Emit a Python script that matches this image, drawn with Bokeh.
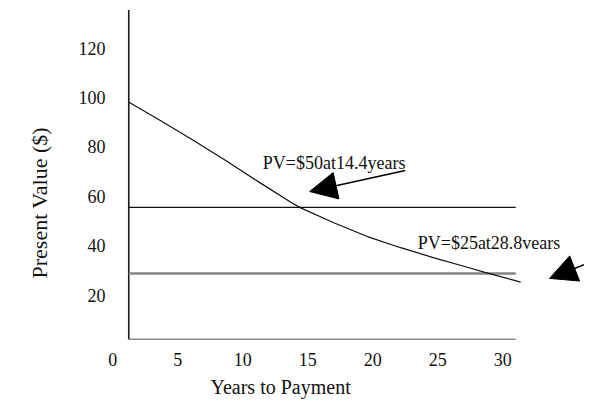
from bokeh.plotting import figure
from bokeh.models import Range1d, FixedTicker, Label, Arrow, NormalHead, Title
from bokeh.embed import file_html
from bokeh.resources import INLINE

# ---- data ----
curve_years = [1.25, 3.56, 6.13, 8.69, 11.25, 13.82, 14.46, 17.0, 19.59,
               22.15, 24.72, 27.28, 28.56, 31.38]
curve_pv = [98.1, 91.0, 82.9, 74.5, 65.8, 57.3, 55.4, 49.4, 43.8,
            39.3, 35.2, 31.4, 29.4, 25.4]

level_50_value = 55.6     # black horizontal line (PV = $50)
level_25_value = 28.9     # grey horizontal line (PV = $25)
level_start = 1.23
level_end = 31.0

x_ticks = [0, 5, 10, 15, 20, 25, 30]
y_ticks = [20, 40, 60, 80, 100, 120]

x_title = "Years to Payment"
y_title = "Present Value ($)"
label_50 = "PV=$50at14.4years"
label_25 = "PV=$25at28.8vears"

FONT = "Liberation Serif"

p = figure(frame_width=472, frame_height=339, output_backend="svg",
           toolbar_location=None,
           x_range=Range1d(-0.02, 36.29), y_range=Range1d(2.2, 139.2),
           min_border_left=112, min_border_right=0, min_border_top=0,
           min_border_bottom=65)
p.outline_line_color = None
p.grid.visible = False
p.background_fill_color = "white"
p.border_fill_color = "white"

p.axis.axis_line_color = None
p.axis.major_tick_line_color = None
p.axis.minor_tick_line_color = None
p.axis.major_label_text_font = FONT
p.axis.major_label_text_font_size = "18px"
p.axis.major_label_text_color = "#111111"

p.xaxis.ticker = FixedTicker(ticks=x_ticks)
p.yaxis.ticker = FixedTicker(ticks=y_ticks)
p.xaxis.major_label_standoff = 7
p.yaxis.major_label_standoff = 1

# axis titles placed where the reference has them
p.add_layout(Title(text=x_title, text_font=FONT, text_font_size="20px",
                   text_font_style="normal", text_color="#111111",
                   align="left", offset=98, standoff=11), "below")
p.add_layout(Title(text=y_title, text_font=FONT, text_font_size="22px",
                   text_font_style="normal", text_color="#111111",
                   align="left", offset=61, standoff=47), "left")

# axis lines as drawn in the reference
y_axis_top = 135.4
y_axis_bottom = 2.2
p.segment(x0=[level_start], y0=[y_axis_bottom], x1=[level_start], y1=[y_axis_top],
          line_color="#1a1a1a", line_width=1.6)
p.segment(x0=[level_start], y0=[y_axis_bottom], x1=[level_end], y1=[y_axis_bottom],
          line_color="#1a1a1a", line_width=1.6)

# horizontal levels
p.segment(x0=[level_start], y0=[level_50_value], x1=[level_end], y1=[level_50_value],
          line_color="#111111", line_width=1.4)
p.segment(x0=[level_start], y0=[level_25_value], x1=[level_end], y1=[level_25_value],
          line_color="#858585", line_width=2.6)

# present value curve
p.line(curve_years, curve_pv, line_color="#111111", line_width=1.2)

# annotations
p.add_layout(Label(x=11.54, y=73.7, text=label_50, text_font=FONT,
                   text_font_size="18px", text_baseline="middle", text_color="#111111"))
p.add_layout(Label(x=23.46, y=41.0, text=label_25, text_font=FONT,
                   text_font_size="18px", text_baseline="middle", text_color="#111111"))

p.add_layout(Arrow(x_start=22.5, y_start=70.5, x_end=15.15, y_end=62.0,
                   line_color="black", line_width=1.6,
                   end=NormalHead(size=27, fill_color="black", line_color="black")))
p.add_layout(Arrow(x_start=36.25, y_start=32.4, x_end=33.6, y_end=26.9,
                   line_color="black", line_width=1.6,
                   end=NormalHead(size=27, fill_color="black", line_color="black")))

open("out.html", "w").write(file_html(p, INLINE))
